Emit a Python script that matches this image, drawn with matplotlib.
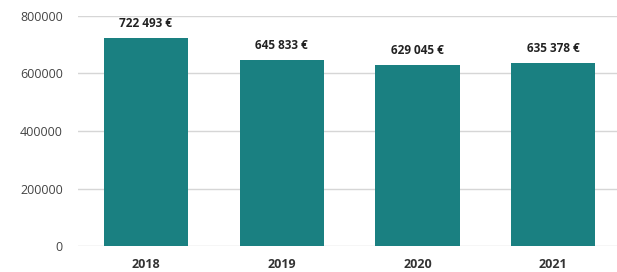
import matplotlib.pyplot as plt

years = ["2018", "2019", "2020", "2021"]
values = [722493, 645833, 629045, 635378]
labels = ["722 493 €", "645 833 €", "629 045 €", "635 378 €"]
yticks = [0, 200000, 400000, 600000, 800000]

fig = plt.figure(figsize=(6.17, 2.72), dpi=100)
ax = fig.add_axes([78 / 617, 26 / 272, 1 - 78 / 617, 230 / 272])

ax.bar(range(len(years)), values, width=0.62, color="#1a8081", zorder=3)
for i, (v, t) in enumerate(zip(values, labels)):
    ax.text(i, v + 30000, t, ha="center", va="bottom", fontsize=8.5,
            fontweight="bold", color="#222222", family="Open Sans", clip_on=False)

ax.set_xlim(-0.5, 3.47)
ax.set_ylim(0, 800000)
ax.set_yticks(yticks)
ax.set_yticklabels([str(t) for t in yticks], fontsize=9, color="#444444", family="Open Sans")
ax.set_xticks(range(len(years)))
ax.set_xticklabels(years, fontsize=9, fontweight="bold", color="#333333", family="Open Sans")
ax.tick_params(axis="both", length=0)
ax.tick_params(axis="y", pad=11)
ax.tick_params(axis="x", pad=9)
ax.grid(axis="y", color="#d6d6d6", linewidth=1, zorder=0)
for s in ax.spines.values():
    s.set_visible(False)

fig.savefig("out.png", dpi=100)
